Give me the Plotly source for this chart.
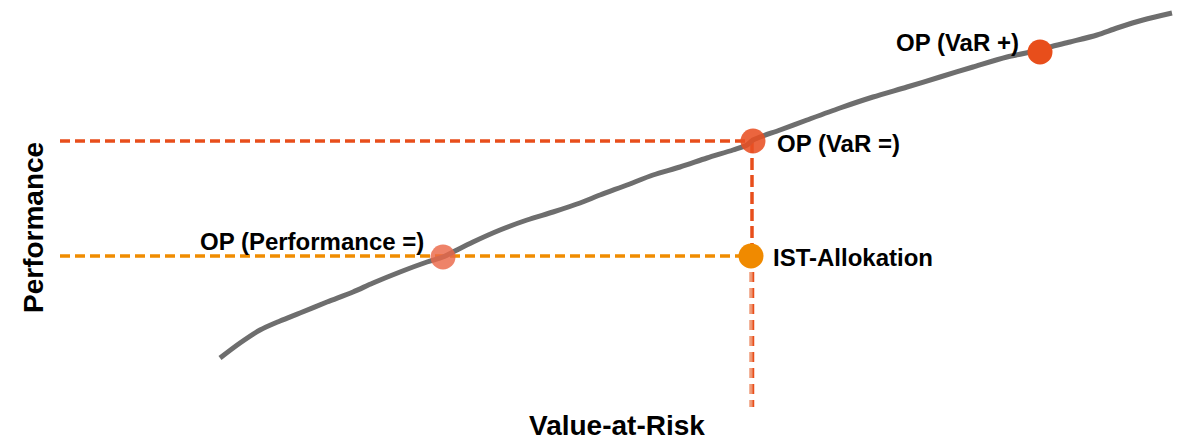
import plotly.graph_objects as go

# Efficient frontier curve (Value-at-Risk vs. Performance, arbitrary units)
var_values = [220, 240, 260, 280, 300, 327, 353, 373, 400, 427, 443, 453, 473, 500, 527,
              553, 580, 600, 627, 653, 680, 707, 733, 747, 753, 780, 807, 840, 873, 907,
              940, 973, 1007, 1040, 1050, 1070, 1097, 1117, 1143, 1172]
perf_values = [358, 343, 330, 321, 313, 302, 292, 283, 272, 262, 257, 252, 242, 230, 220,
               212, 203, 195, 185, 175, 167, 158, 150, 145, 140, 130, 120, 108, 97, 87,
               77, 67, 57, 50, 47, 42, 35, 28, 20, 13]

# Operating points
point_names = ["OP (Performance =)", "OP (VaR =)", "IST-Allokation", "OP (VaR +)"]
point_var = [443, 753, 751, 1040]
point_perf = [257, 141, 256, 52]
point_colors = ["rgba(234,104,72,0.82)", "rgba(232,80,35,0.88)", "#f08a00", "#e84e1b"]

H = 441  # canvas height used to flip the vertical scale
W = 1194

def fy(v):
    return H - v

fig = go.Figure()

RED = "#e84e1b"
ORANGE = "#f08c00"

# Reference (dashed) lines
fig.add_trace(go.Scatter(x=[60, point_var[1]], y=[fy(point_perf[1])] * 2, mode="lines",
                         line=dict(color=RED, width=3.5, dash="10px,5px"), hoverinfo="skip"))
fig.add_trace(go.Scatter(x=[60, point_var[2]], y=[fy(point_perf[2])] * 2, mode="lines",
                         line=dict(color=ORANGE, width=3.5, dash="10px,5px"), hoverinfo="skip"))
fig.add_trace(go.Scatter(x=[752, 752], y=[fy(point_perf[1]), fy(point_perf[2])], mode="lines",
                         line=dict(color=RED, width=3.5, dash="12px,5px"), hoverinfo="skip"))
fig.add_trace(go.Scatter(x=[753, 753], y=[fy(point_perf[2]), fy(407)], mode="lines",
                         line=dict(color=RED, width=2.5, dash="10px,6px"), hoverinfo="skip"))
fig.add_trace(go.Scatter(x=[751, 751], y=[fy(point_perf[2]), fy(407)], mode="lines",
                         line=dict(color="rgba(236,140,100,0.85)", width=3.5, dash="10px,6px"),
                         hoverinfo="skip"))

# Curve
fig.add_trace(go.Scatter(x=var_values, y=[fy(v) for v in perf_values], mode="lines",
                         line=dict(color="#6e6e6e", width=5, shape="spline", smoothing=0.8),
                         hoverinfo="skip"))

# Points
fig.add_trace(go.Scatter(x=point_var, y=[fy(v) for v in point_perf], mode="markers",
                         marker=dict(size=25, color=point_colors, line=dict(width=0)),
                         text=point_names, hoverinfo="text"))

font = dict(family="Liberation Sans, Arial, sans-serif", size=24, color="#000000")
labels = [
    (point_names[0], 426, 241, "right"),
    (point_names[1], 775, 143, "left"),
    (point_names[2], 771, 257, "left"),
    (point_names[3], 1021, 42, "right"),
]
for text, x, y, anchor in labels:
    fig.add_annotation(x=x, y=fy(y), text=f"<b>{text}</b>", showarrow=False, xanchor=anchor,
                       yanchor="middle", font=font)

title_font = dict(family="Liberation Sans, Arial, sans-serif", size=28, color="#000000")
fig.add_annotation(x=617, y=fy(425), text="<b>Value-at-Risk</b>", showarrow=False,
                   xanchor="center", yanchor="middle", font=title_font)
fig.add_annotation(x=33, y=fy(228), text="<b>Performance</b>", showarrow=False, textangle=-90,
                   xanchor="center", yanchor="middle", font=title_font)

fig.update_layout(
    width=W, height=H,
    margin=dict(l=0, r=0, t=0, b=0),
    paper_bgcolor="white", plot_bgcolor="white",
    showlegend=False,
    xaxis=dict(range=[0, W], visible=False, fixedrange=True),
    yaxis=dict(range=[0, H], visible=False, fixedrange=True),
)

fig.write_html("out.html", config={"displayModeBar": False})
